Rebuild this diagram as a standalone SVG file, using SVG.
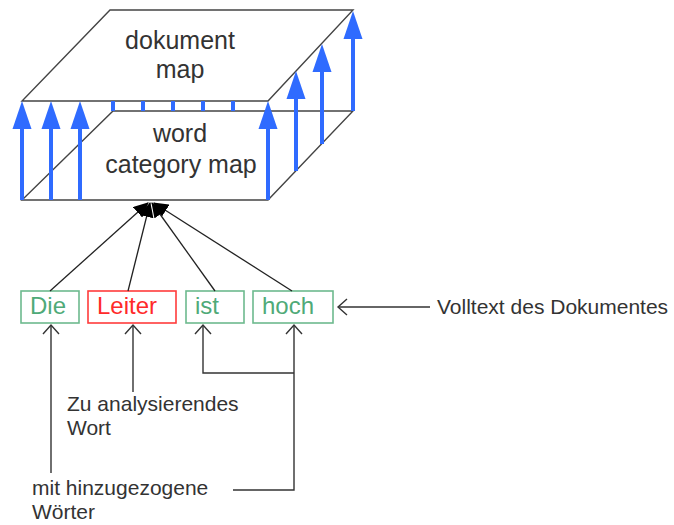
<svg xmlns="http://www.w3.org/2000/svg" width="674" height="525" viewBox="0 0 674 525">
<style>
.edge{stroke:#444;stroke-width:1.4;fill:none}
.blue{stroke:#2f6bff;stroke-width:4;fill:none}
.tick{stroke:#2f6bff;stroke-width:4}
.conv{stroke:#222;stroke-width:1.3;fill:none;marker-end:url(#blk)}
.ann{stroke:#333;stroke-width:1.4;fill:none}
.open{marker-end:url(#opn)}
.lbl{font-family:"Liberation Sans",Arial,sans-serif;fill:#333}
.big{font-size:25px;text-anchor:middle}
.mid{font-size:21px}
.word{font-family:"Liberation Sans",Arial,sans-serif;font-size:24px}
.gbox{fill:#fff;stroke:#6dba8e;stroke-width:1.6}
.rbox{fill:#fff;stroke:#ff3b3b;stroke-width:1.6}
</style>
<defs>
<marker id="bh" markerUnits="userSpaceOnUse" viewBox="0 0 28 20" markerWidth="28" markerHeight="20" refX="8" refY="10" orient="auto">
<path d="M0,0.5 L28,10 L0,19.5 z" fill="#2f6bff"/>
</marker>
<marker id="blk" markerUnits="userSpaceOnUse" viewBox="0 0 15 14" markerWidth="15" markerHeight="14" refX="14" refY="7" orient="auto">
<path d="M0,0 L15,7 L0,14 z" fill="#000"/>
</marker>
<marker id="opn" markerUnits="userSpaceOnUse" viewBox="0 0 12 18" markerWidth="12" markerHeight="18" refX="10" refY="9" orient="auto">
<path d="M1,1 L10,9 L1,17" fill="none" stroke="#333" stroke-width="1.4"/>
</marker>
</defs>
<rect width="674" height="525" fill="#fff"/>

<g id="word-category-map">
<path class="edge" d="M113,111 L353,111 L268,200 L22,200 Z"/>
<text class="lbl big" x="180" y="142">word</text>
<text class="lbl big" x="181" y="173">category map</text>
</g>

<g id="dokument-map">
<path class="edge" d="M110,10 L353,10 L268,101 L22,101 Z"/>
<text class="lbl big" x="180" y="49">dokument</text>
<text class="lbl big" x="180" y="78">map</text>
</g>

<g id="blue-arrows">
<line class="tick" x1="113" y1="101" x2="113" y2="111"/>
<line class="tick" x1="143" y1="101" x2="143" y2="111"/>
<line class="tick" x1="173" y1="101" x2="173" y2="111"/>
<line class="tick" x1="203" y1="101" x2="203" y2="111"/>
<line class="tick" x1="233" y1="101" x2="233" y2="111"/>
<line class="blue" x1="22" y1="200" x2="22" y2="121" marker-end="url(#bh)"/>
<line class="blue" x1="51" y1="200" x2="51" y2="121" marker-end="url(#bh)"/>
<line class="blue" x1="80" y1="200" x2="80" y2="121" marker-end="url(#bh)"/>
<line class="blue" x1="268" y1="200" x2="268" y2="121" marker-end="url(#bh)"/>
<line class="blue" x1="296" y1="171" x2="296" y2="91" marker-end="url(#bh)"/>
<line class="blue" x1="322" y1="144" x2="322" y2="64" marker-end="url(#bh)"/>
<line class="blue" x1="353" y1="111" x2="353" y2="31" marker-end="url(#bh)"/>
</g>

<g id="w-die">
<rect class="gbox" x="21" y="291" width="58" height="32"/>
<text class="word" x="30" y="314" fill="#4faa78">Die</text>
</g>
<g id="w-leiter">
<rect class="rbox" x="88" y="291" width="88" height="32"/>
<text class="word" x="97" y="314" fill="#ff2a2a">Leiter</text>
</g>
<g id="w-ist">
<rect class="gbox" x="186" y="291" width="58" height="32"/>
<text class="word" x="195" y="314" fill="#4faa78">ist</text>
</g>
<g id="w-hoch">
<rect class="gbox" x="253" y="291" width="80" height="32"/>
<text class="word" x="262" y="314" fill="#4faa78">hoch</text>
</g>

<g id="labels">
<text class="lbl mid" x="437" y="314">Volltext des Dokumentes</text>
<text class="lbl mid" x="67" y="411">Zu analysierendes</text>
<text class="lbl mid" x="67" y="435">Wort</text>
<text class="lbl mid" x="32" y="495">mit hinzugezogene</text>
<text class="lbl mid" x="32" y="519">Wörter</text>
</g>

<g id="connectors">
<line class="conv" x1="50" y1="291" x2="148" y2="203"/>
<line class="conv" x1="128" y1="291" x2="150" y2="203"/>
<line class="conv" x1="215" y1="291" x2="152" y2="203"/>
<line class="conv" x1="292" y1="291" x2="154" y2="203"/>
<line class="ann open" x1="430" y1="307" x2="338" y2="307"/>
<line class="ann open" x1="51" y1="473" x2="51" y2="325"/>
<line class="ann open" x1="133" y1="392" x2="133" y2="325"/>
<path class="ann open" d="M294,373 L203,373 L203,325"/>
<path class="ann open" d="M233,490 L294,490 L294,325"/>
</g>
</svg>
